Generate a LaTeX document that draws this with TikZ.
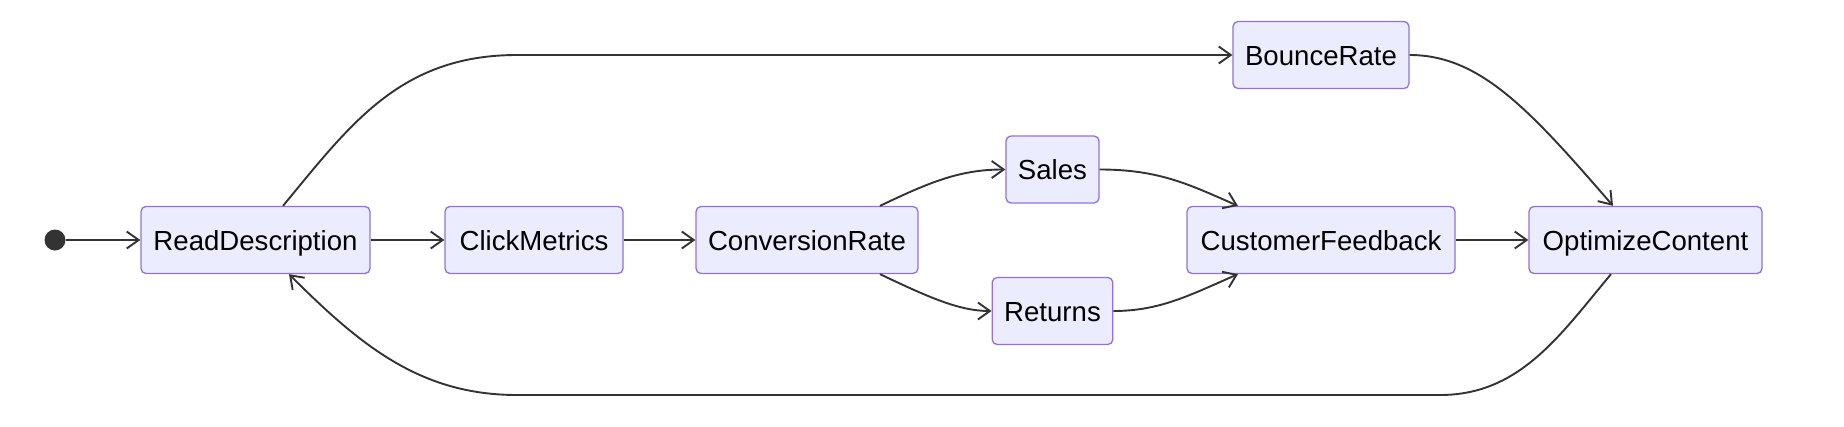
\documentclass[tikz,border=0pt]{standalone}
\usepackage{fontspec}
\setmainfont{Liberation Sans}
\usetikzlibrary{arrows.meta, positioning}
\definecolor{stateborder}{HTML}{9370DB}
\definecolor{statefill}{HTML}{ECECFF}
\definecolor{edgegray}{HTML}{333333}

\begin{document}
\begin{tikzpicture}[x=1pt, y=-1pt,
  state/.style={rectangle, rounded corners=5pt, draw=stateborder, fill=statefill, line width=1.3pt,
    minimum height=67pt, inner xsep=12pt, text height=20pt, text depth=0pt,
    font=\fontsize{27.6}{33}\selectfont},
  flow/.style={-{Straight Barb[length=12pt, width=17pt]}, draw=edgegray, line width=1.9pt},
  startdot/.style={circle, fill=edgegray, minimum size=21pt, inner sep=0pt}
]
\useasboundingbox (0,0) rectangle (1844,426);

% States
\node[startdot] (start) at (55,240) {};
\node[state, minimum width=229pt] (read) at (255.5,240) {ReadDescription};
\node[state, minimum width=178pt] (click) at (534,240) {ClickMetrics};
\node[state, minimum width=221pt] (conv) at (807,240) {ConversionRate};
\node[state, minimum width=91pt] (sales) at (1052.5,169.5) {Sales};
\node[state, minimum width=120pt] (returns) at (1052.5,311) {Returns};
\node[state, minimum width=174pt] (bounce) at (1321,55) {BounceRate};
\node[state, minimum width=268pt] (feedback) at (1321,240) {CustomerFeedback};
\node[state, minimum width=233pt] (optimize) at (1645.5,240) {OptimizeContent};

% Main line
\draw[flow] (start) -- (read);
\draw[flow] (read) -- (click);
\draw[flow] (click) -- (conv);
\draw[flow] (feedback) -- (optimize);

% Branches
\draw[flow] ([xshift=73pt]conv.north) .. controls (930,182) and (960,169.5) .. (sales.west);
\draw[flow] ([xshift=73pt]conv.south) .. controls (930,298) and (960,311) .. (returns.west);
\draw[flow] (sales.east) .. controls (1160,169.5) and (1190,185) .. ([xshift=-83pt]feedback.north);
\draw[flow] (returns.east) .. controls (1160,311) and (1190,295) .. ([xshift=-83pt]feedback.south);

% Bounce path
\draw[flow] ([xshift=27.5pt]read.north) .. controls (350,125) and (400,55) .. (517,55) -- (bounce.west);
\draw[flow] (bounce.east) .. controls (1480,55) and (1530,110) .. ([xshift=-32.5pt]optimize.north);

% Loop back
\draw[flow] ([xshift=-34.5pt]optimize.south) .. controls (1560,335) and (1520,395) .. (1440,395)
  -- (517,395) .. controls (420,395) and (360,345) .. ([xshift=33.5pt]read.south);
\end{tikzpicture}
\end{document}
